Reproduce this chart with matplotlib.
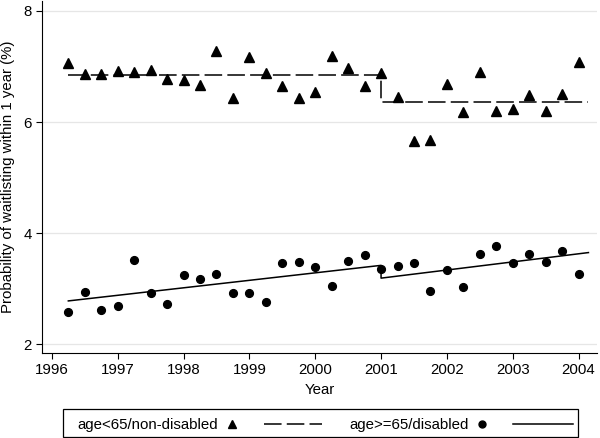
import matplotlib
matplotlib.use('Agg')
import matplotlib.pyplot as plt
from matplotlib.lines import Line2D
from matplotlib.patches import Rectangle

plt.rcParams['font.family'] = ['Liberation Sans', 'DejaVu Sans']

# quarterly observations
years = [1996.25, 1996.5, 1996.75, 1997.0, 1997.25, 1997.5, 1997.75, 1998.0,
         1998.25, 1998.5, 1998.75, 1999.0, 1999.25, 1999.5, 1999.75, 2000.0,
         2000.25, 2000.5, 2000.75, 2001.0, 2001.25, 2001.5, 2001.75, 2002.0,
         2002.25, 2002.5, 2002.75, 2003.0, 2003.25, 2003.5, 2003.75, 2004.0]
young = [7.07, 6.87, 6.86, 6.92, 6.90, 6.94, 6.78, 6.76,
         6.66, 7.27, 6.43, 7.17, 6.89, 6.65, 6.43, 6.54,
         7.18, 6.98, 6.64, 6.88, 6.45, 5.65, 5.68, 6.69,
         6.18, 6.90, 6.20, 6.23, 6.49, 6.20, 6.51, 7.08]
old = [2.58, 2.94, 2.62, 2.68, 3.51, 2.93, 2.72, 3.25,
       3.17, 3.27, 2.92, 2.93, 2.76, 3.46, 3.48, 3.39,
       3.05, 3.49, 3.61, 3.36, 3.40, 3.46, 2.96, 3.33,
       3.03, 3.62, 3.76, 3.46, 3.62, 3.48, 3.67, 3.27]

# fitted segments (break at 2001)
fit_x = [1996.25, 2001.0, 2001.0, 2004.15]
fit_young = [6.84, 6.84, 6.36, 6.36]
fit_old = [2.78, 3.42, 3.19, 3.65]

xticks = list(range(1996, 2005))
yticks = [2, 4, 6, 8]

fig = plt.figure(figsize=(6, 4.38), dpi=100)
ax = fig.add_axes([0.07, 0.195, 0.925, 0.803])

for y in yticks:
    ax.axhline(y, color='#e6e6e6', lw=0.9, zorder=0)

dash = (0, (11.5, 3.4))
ax.plot(years, young, '^', color='black', ms=7, mec='black', zorder=3)
ax.plot(fit_x, fit_young, color='black', lw=1.1, ls=dash, zorder=2)
ax.plot(years, old, 'o', color='black', ms=5.6, zorder=3)
ax.plot(fit_x, fit_old, color='black', lw=1.1, zorder=2)

ax.set_xlim(1995.85, 2004.28)
ax.set_ylim(1.85, 8.18)
ax.set_xticks(xticks)
ax.set_yticks(yticks)
ax.tick_params(direction='out', length=4, width=0.8, labelsize=10.8, pad=3.5)
ax.spines['top'].set_visible(False)
ax.spines['right'].set_visible(False)
ax.set_xlabel('Year', fontsize=10.8, labelpad=4)
ax.set_ylabel('Probability of waitlisting within 1 year (%)', fontsize=10.8, labelpad=6)

# legend box in Stata style (pixel positions -> figure fractions)
W, H = 600.0, 438.0
fig.patches.append(Rectangle((63 / W, 1 - 437.3 / H), 515 / W, 28 / H,
                             transform=fig.transFigure, fill=False,
                             ec='black', lw=0.9))
ty = 1 - 424.3 / H
tb = 1 - 429.5 / H
fig.text(77 / W, tb, 'age<65/non-disabled', fontsize=10.8, va='baseline')
fig.lines.append(Line2D([231.7 / W], [ty], marker='^', color='black', ms=5.8,
                        transform=fig.transFigure))
fig.lines.append(Line2D([264 / W, 322 / W], [ty, ty], color='black', lw=1.1,
                        ls=dash, transform=fig.transFigure))
fig.text(349 / W, tb, 'age>=65/disabled', fontsize=10.8, va='baseline')
fig.lines.append(Line2D([481.7 / W], [ty], marker='o', color='black', ms=5.0,
                        transform=fig.transFigure))
fig.lines.append(Line2D([513 / W, 573 / W], [ty, ty], color='black', lw=1.1,
                        transform=fig.transFigure))

fig.savefig('out.png', dpi=100)
